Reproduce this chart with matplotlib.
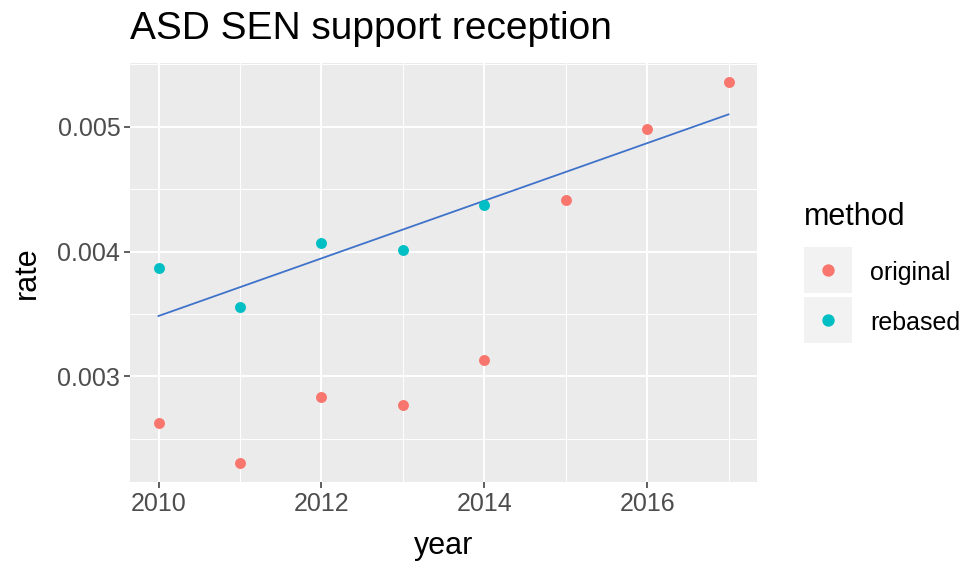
import matplotlib
matplotlib.use("Agg")
import matplotlib.pyplot as plt
from matplotlib.lines import Line2D
from matplotlib.patches import Rectangle

plt.rcParams['font.family'] = ['Liberation Sans', 'DejaVu Sans']

# ---- data ----
years_original = [2010, 2011, 2012, 2013, 2014, 2015, 2016, 2017]
rate_original = [0.002631, 0.002307, 0.002832, 0.002775, 0.003134, 0.004414, 0.004981, 0.005358]
years_rebased = [2010, 2011, 2012, 2013, 2014]
rate_rebased = [0.003872, 0.003556, 0.004072, 0.004013, 0.004372]
trend_years = [2010, 2017]
trend_rate = [0.003484, 0.005099]
x_ticks = [2010, 2012, 2014, 2016]
y_ticks = [0.003, 0.004, 0.005]
y_tick_labels = ["0.003", "0.004", "0.005"]
legend_labels = ["original", "rebased"]

c_orig = "#F8766D"
c_reb = "#00BFC4"
W, H = 966, 563

fig = plt.figure(figsize=(W/100, H/100), dpi=100)
ax = fig.add_axes([130/W, 1-482/H, (757-130)/W, (482-63)/H])
ax.set_facecolor("#EBEBEB")

allx = years_original + years_rebased
ally = rate_original + rate_rebased
xr = max(allx) - min(allx)
yr = max(ally) - min(ally)
ax.set_xlim(min(allx) - 0.05*xr, max(allx) + 0.05*xr)
ax.set_ylim(min(ally) - 0.05*yr, max(ally) + 0.05*yr)

# grid
for x in [2011, 2013, 2015, 2017]:
    ax.axvline(x, color="white", lw=0.7, zorder=0.5)
for y in [0.0025, 0.0035, 0.0045, 0.0055]:
    ax.axhline(y, color="white", lw=0.7, zorder=0.5)
for x in x_ticks:
    ax.axvline(x, color="white", lw=1.4, zorder=0.6)
for y in y_ticks:
    ax.axhline(y, color="white", lw=1.4, zorder=0.6)

ax.scatter(years_original, rate_original, s=62, color=c_orig, zorder=3, linewidths=0)
ax.scatter(years_rebased, rate_rebased, s=62, color=c_reb, zorder=3, linewidths=0)
ax.plot(trend_years, trend_rate, color="#3F72C9", lw=1.3, zorder=2.5)

for s in ax.spines.values():
    s.set_visible(False)
ax.set_xticks(x_ticks)
ax.set_xticklabels([str(x) for x in x_ticks])
ax.set_yticks(y_ticks)
ax.set_yticklabels(y_tick_labels)
ax.tick_params(axis='both', length=4, width=1.1, color="#333333", labelcolor="#4D4D4D",
               labelsize=18, pad=3)

ax.set_xlabel("year", fontsize=22, color="black", labelpad=11)
ax.set_ylabel("rate", fontsize=22, color="black", labelpad=11)
fig.text(130/W, 1-39/H, "ASD SEN support reception", fontsize=28, color="black",
         ha="left", va="baseline")

# legend (ggplot style)
fig.text(804/W, 1-225/H, "method", fontsize=22, color="black", ha="left", va="baseline")
for cy, col, lab in zip([270, 320], [c_orig, c_reb], legend_labels):
    fig.patches.append(Rectangle((804/W, 1-(cy+23)/H), 48/W, 46/H,
                                 transform=fig.transFigure, facecolor="#F2F2F2",
                                 edgecolor="none", zorder=0))
    fig.add_artist(Line2D([828/W], [1-cy/H], marker='o', linestyle='', color=col,
                          markersize=7.9, transform=fig.transFigure))
    fig.text(870/W, 1-(cy+10)/H, lab, fontsize=18, color="black", ha="left", va="baseline")

fig.savefig("out.png", dpi=100)
